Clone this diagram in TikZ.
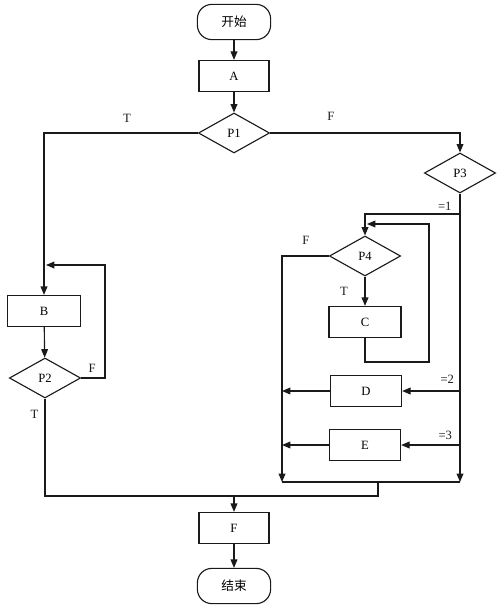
\documentclass[tikz,border=0pt]{standalone}
\usepackage{fontspec}
\setmainfont{Liberation Serif}
\newfontfamily\cjk{Noto Sans CJK SC}
\usepackage{tikz}
\usetikzlibrary{positioning,arrows.meta,shapes.geometric,calc}
\definecolor{fcInk}{HTML}{1A1A1A}
\definecolor{fcWhite}{HTML}{FFFFFF}
\tikzset{
  fc-box/.style={
    draw=fcInk, line width=0.8pt, fill=fcWhite,
    font=\small, align=center, inner sep=0pt,
    minimum width=17.5mm, minimum height=7.8mm
  },
  fc-term/.style={fc-box, rounded corners=3.6mm, minimum width=18.3mm,
    minimum height=8.8mm, font=\small\cjk},
  fc-dec/.style={fc-box, diamond, minimum width=17.8mm, minimum height=10mm},
  fc-line/.style={line width=0.8pt, draw=fcInk},
  fc-flow/.style={fc-line, -{Triangle[length=2.1mm,width=1.7mm]}},
  fc-label/.style={font=\small, inner sep=1pt, text=fcInk}
}

\begin{document}
\begin{tikzpicture}[x=0.25mm, y=-0.25mm]
\useasboundingbox (0,0) rectangle (500,605);

% Main column
\node[fc-term] (start) at (234,22) {开始};
\node[fc-box] (A) at (234,76) {A};
\node[fc-dec] (P1) at (234,133) {P1};

% Left branch
\node[fc-box, minimum width=18.3mm] (B) at (44,311) {B};
\node[fc-dec] (P2) at (45,378) {P2};

% Right branch
\node[fc-dec] (P3) at (460,173) {P3};
\node[fc-dec] (P4) at (365,256) {P4};
\node[fc-box, minimum width=18mm] (C) at (365,322) {C};
\node[fc-box, minimum width=17.8mm] (D) at (366,391) {D};
\node[fc-box, minimum width=17.8mm] (E) at (365,445) {E};

% Merge and end
\node[fc-box] (F) at (234,528) {F};
\node[fc-term] (end) at (234,586) {结束};

% Junction points
\coordinate (bin)   at (46,265);
\coordinate (bloop) at (105,265);
\coordinate (b1)    at (460,214);
\coordinate (cloop) at (429,362);
\coordinate (cin)   at (367,224);
\coordinate (b2)    at (460,391);
\coordinate (b3)    at (460,445);
\coordinate (jl)    at (282,482);
\coordinate (jr)    at (460,482);
\coordinate (m1)    at (378,482);
\coordinate (m2)    at (378,496);

% Main flow
\draw[fc-flow] (start) -- (A);
\draw[fc-flow] (A) -- (P1);
\draw[fc-flow] (P1.west) -| node[fc-label, pos=0.23, above=2.2mm]{T} (B.north);
\draw[fc-flow] (P1.east) -| node[fc-label, pos=0.16, above=2.6mm]{F} (P3.north);

% Loop on B
\draw[fc-flow] (B) -- (P2);
\draw[fc-flow] (P2.east) -| node[fc-label, pos=0.23, above=0.8mm]{F} (bloop) -- (bin);

% Case P3
\draw[fc-flow] (P3.south) -- (jr);
\draw[fc-flow] (b1) -| node[fc-label, pos=0.08, above=0.4mm]{=1} (P4.north);
\draw[fc-flow] (P4) -- node[fc-label, left=3.8mm]{T} (C);
\draw[fc-flow] (C.south) |- (cloop) |- (cin);
\draw[fc-flow] (P4.west) -| node[fc-label, pos=0.245, above=2.3mm]{F} (jl);
\draw[fc-flow] (b2) -- node[fc-label, pos=0.22, above=1.3mm]{=2} (D.east);
\draw[fc-flow] (D.west) -- (D.west -| jl);
\draw[fc-flow] (b3) -- node[fc-label, pos=0.25, above=0.8mm]{=3} (E.east);
\draw[fc-flow] (E.west) -- (E.west -| jl);

% Merge
\draw[fc-line] (jl) -- (jr);
\draw[fc-line] (P2.south) |- node[fc-label, pos=0.08, left=1.2mm]{T} (m2) -- (m1);
\draw[fc-flow] (F |- m2) -- (F);
\draw[fc-flow] (F) -- (end);
\end{tikzpicture}
\end{document}
